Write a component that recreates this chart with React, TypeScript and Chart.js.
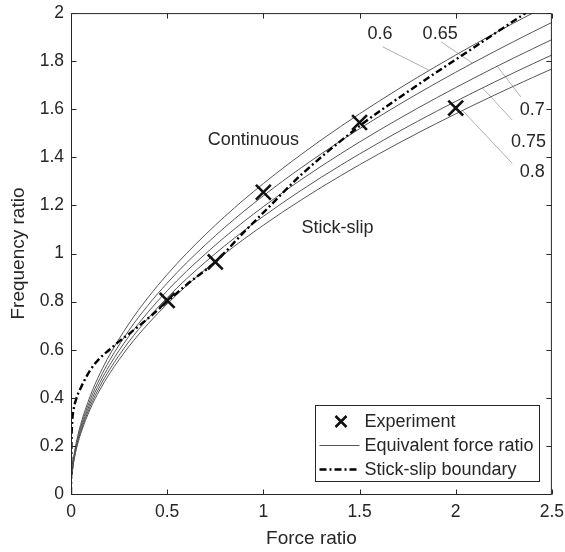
import React, { useEffect, useRef } from 'react';
import { Chart, registerables } from 'chart.js';

Chart.register(...registerables);

const FONT = '"Liberation Sans", Arial, Helvetica, sans-serif';
const TEXT = '#262626';

// Axis ticks
const xTicks = [0, 0.5, 1, 1.5, 2, 2.5];
const xTickLabels = ['0', '0.5', '1', '1.5', '2', '2.5'];
const yTicks = [0, 0.2, 0.4, 0.6, 0.8, 1, 1.2, 1.4, 1.6, 1.8, 2];
const yTickLabels = ['0', '0.2', '0.4', '0.6', '0.8', '1', '1.2', '1.4', '1.6', '1.8', '2'];

// Experiment points
const experimentX = [0.5, 0.75, 1.0, 1.5, 2.0];
const experimentY = [0.805, 0.965, 1.255, 1.545, 1.605];

// Equivalent force ratio curves
const forceGrid = [0.005, 0.01, 0.02, 0.035, 0.05, 0.1, 0.15, 0.2, 0.3, 0.4, 0.5, 0.6, 0.8, 1.0, 1.2, 1.4, 1.6, 1.8, 2.0, 2.2, 2.4, 2.5];
const eqRatio060 = [0.0913, 0.1291, 0.1826, 0.2415, 0.2887, 0.4082, 0.5, 0.5774, 0.7071, 0.8165, 0.9129, 1.0, 1.1547, 1.291, 1.4142, 1.5275, 1.633, 1.7321, 1.8257, 1.9149, 2.0, 2.0412];
const eqRatio065 = [0.0877, 0.124, 0.1754, 0.2321, 0.2774, 0.3922, 0.4804, 0.5547, 0.6794, 0.7845, 0.8771, 0.9608, 1.1094, 1.2403, 1.3587, 1.4676, 1.5689, 1.6641, 1.7541, 1.8397, 1.9215, 1.9612];
const eqRatio070 = [0.0845, 0.1195, 0.169, 0.2236, 0.2673, 0.378, 0.4629, 0.5345, 0.6547, 0.7559, 0.8452, 0.9258, 1.069, 1.1952, 1.3093, 1.4142, 1.5119, 1.6036, 1.6903, 1.7728, 1.8516, 1.8898];
const eqRatio075 = [0.0816, 0.1155, 0.1633, 0.216, 0.2582, 0.3651, 0.4472, 0.5164, 0.6325, 0.7303, 0.8165, 0.8944, 1.0328, 1.1547, 1.2649, 1.3663, 1.4606, 1.5492, 1.633, 1.7127, 1.7889, 1.8257];
const eqRatio080 = [0.0791, 0.1118, 0.1581, 0.2092, 0.25, 0.3536, 0.433, 0.5, 0.6124, 0.7071, 0.7906, 0.866, 1.0, 1.118, 1.2247, 1.3229, 1.4142, 1.5, 1.5811, 1.6583, 1.7321, 1.7678];

// Stick-slip boundary
const boundaryX = [0, 0.001, 0.003, 0.006, 0.012, 0.025, 0.05, 0.1, 0.15, 0.2, 0.25, 0.3, 0.4, 0.5, 0.6, 0.75, 0.9, 1.0, 1.2, 1.5, 1.8, 2.1, 2.4];
const boundaryY = [0, 0.12, 0.24, 0.3, 0.345, 0.39, 0.44, 0.515, 0.565, 0.6, 0.635, 0.665, 0.73, 0.8, 0.87, 0.965, 1.09, 1.17, 1.33, 1.53, 1.7, 1.86, 2.02];

// Curve labels and leader lines (data coordinates)
const curveLabels = ['0.6', '0.65', '0.7', '0.75', '0.8'];
const curveLabelX = [1.606, 1.919, 2.398, 2.378, 2.398];
const curveLabelY = [1.915, 1.915, 1.597, 1.465, 1.34];
const leaderFromX = [1.62, 1.923, 2.338, 2.294, 2.294];
const leaderFromY = [1.86, 1.881, 1.652, 1.555, 1.375];
const leaderToX = [1.862, 2.087, 2.216, 2.139, 2.035];
const leaderToY = [1.762, 1.792, 1.779, 1.689, 1.595];

// Region labels
const regionLabels = ['Continuous', 'Stick-slip'];
const regionX = [0.948, 1.386];
const regionY = [1.472, 1.105];

const toPoints = (xs: number[], ys: number[]) => xs.map((x, i) => ({ x, y: ys[i] }));

const curveSeries = [eqRatio060, eqRatio065, eqRatio070, eqRatio075, eqRatio080];

const annotationPlugin = {
  id: 'annotations',
  beforeDatasetsDraw(chart: any) {
    const { ctx, scales } = chart;
    const x = scales.x, y = scales.y;
    ctx.save();
    ctx.strokeStyle = '#b0b0b0';
    ctx.lineWidth = 1;
    for (let i = 0; i < curveLabels.length; i++) {
      ctx.beginPath();
      ctx.moveTo(x.getPixelForValue(leaderFromX[i]), y.getPixelForValue(leaderFromY[i]));
      ctx.lineTo(x.getPixelForValue(leaderToX[i]), y.getPixelForValue(leaderToY[i]));
      ctx.stroke();
    }
    ctx.restore();
  },
  afterDatasetsDraw(chart: any) {
    const { ctx, scales } = chart;
    const x = scales.x, y = scales.y;
    ctx.save();
    ctx.fillStyle = TEXT;
    ctx.textAlign = 'center';
    ctx.textBaseline = 'middle';
    ctx.font = `18px ${FONT}`;
    for (let i = 0; i < curveLabels.length; i++) {
      ctx.fillText(curveLabels[i], x.getPixelForValue(curveLabelX[i]), y.getPixelForValue(curveLabelY[i]));
    }
    for (let i = 0; i < regionLabels.length; i++) {
      ctx.fillText(regionLabels[i], x.getPixelForValue(regionX[i]), y.getPixelForValue(regionY[i]));
    }
    ctx.restore();
  },
};

const framePlugin = {
  id: 'frame',
  afterDraw(chart: any) {
    const { ctx, chartArea, scales } = chart;
    const { left, right, top, bottom } = chartArea;
    const x = scales.x, y = scales.y;
    const L = left + 0.5, R = right - 0.5, T = top + 0.5, B = bottom + 0.5;
    const tl = 5;
    ctx.save();
    ctx.strokeStyle = TEXT;
    ctx.lineWidth = 1;
    ctx.beginPath();
    ctx.rect(L, T, R - L, B - T);
    ctx.stroke();
    ctx.beginPath();
    xTicks.forEach((v) => {
      const px = Math.round(x.getPixelForValue(v)) + 0.5;
      ctx.moveTo(px, B); ctx.lineTo(px, B - tl);
      ctx.moveTo(px, T); ctx.lineTo(px, T + tl);
    });
    yTicks.forEach((v) => {
      const py = Math.round(y.getPixelForValue(v)) + 0.5;
      ctx.moveTo(L, py); ctx.lineTo(L + tl, py);
      ctx.moveTo(R, py); ctx.lineTo(R - tl, py);
    });
    ctx.stroke();

    // Legend
    const boxW = 224, boxH = 76;
    const bx = Math.round(right - 13 - boxW) + 0.5;
    const by = Math.round(bottom - 13 - boxH) + 0.5;
    ctx.fillStyle = '#ffffff';
    ctx.fillRect(bx, by, boxW, boxH);
    ctx.strokeStyle = TEXT;
    ctx.lineWidth = 1;
    ctx.strokeRect(bx, by, boxW, boxH);

    const ds = chart.data.datasets;
    const seen: string[] = [];
    const items: any[] = [];
    ds.forEach((d: any) => {
      if (!seen.includes(d.label)) { seen.push(d.label); items.push(d); }
    });
    ctx.font = `18px ${FONT}`;
    ctx.textBaseline = 'middle';
    ctx.textAlign = 'left';
    items.forEach((d: any, i: number) => {
      const cy = by + 16 + i * 24;
      const x0 = bx + 4, x1 = bx + 44;
      if (d.showLine === false) {
        const cx = bx + 25.5, r = 5.5;
        ctx.strokeStyle = d.borderColor;
        ctx.lineWidth = d.pointBorderWidth;
        ctx.setLineDash([]);
        ctx.beginPath();
        ctx.moveTo(cx - r, cy - r); ctx.lineTo(cx + r, cy + r);
        ctx.moveTo(cx - r, cy + r); ctx.lineTo(cx + r, cy - r);
        ctx.stroke();
      } else {
        ctx.strokeStyle = d.borderColor;
        ctx.lineWidth = d.borderWidth;
        ctx.setLineDash(d.borderDash || []);
        ctx.beginPath();
        ctx.moveTo(x0, cy); ctx.lineTo(x1, cy);
        ctx.stroke();
        ctx.setLineDash([]);
      }
      ctx.fillStyle = TEXT;
      ctx.fillText(d.label, bx + 49, cy + 0.5);
    });
    ctx.restore();
  },
};

export default function App() {
  const canvasRef = useRef<HTMLCanvasElement | null>(null);

  useEffect(() => {
    if (!canvasRef.current) return;
    const datasets: any[] = [
      {
        label: 'Experiment',
        data: toPoints(experimentX, experimentY),
        showLine: false,
        pointStyle: 'crossRot',
        pointRadius: 10.5,
        pointBorderWidth: 2.6,
        borderColor: '#111111',
        backgroundColor: '#111111',
        order: 0,
      },
      ...curveSeries.map((ys) => ({
        label: 'Equivalent force ratio',
        data: toPoints(forceGrid, ys),
        borderColor: '#555555',
        borderWidth: 1,
        pointRadius: 0,
        cubicInterpolationMode: 'monotone',
        fill: false,
        order: 2,
      })),
      {
        label: 'Stick-slip boundary',
        data: toPoints(boundaryX, boundaryY),
        borderColor: '#000000',
        borderWidth: 2.4,
        borderDash: [7, 3, 2, 3],
        pointRadius: 0,
        cubicInterpolationMode: 'monotone',
        fill: false,
        order: 1,
      },
    ];

    const chart = new Chart(canvasRef.current, {
      type: 'line',
      data: { datasets },
      options: {
        animation: false,
        responsive: false,
        devicePixelRatio: 1,
        events: [],
        layout: { padding: { left: 0, top: 13, right: 12, bottom: 0 } },
        plugins: { legend: { display: false }, tooltip: { enabled: false } },
        scales: {
          x: {
            type: 'linear',
            min: 0,
            max: 2.5,
            grid: { display: false, drawTicks: false },
            border: { display: false },
            afterBuildTicks: (s: any) => { s.ticks = xTicks.map((v) => ({ value: v })); },
            afterFit: (s: any) => { s.height = 58; s.paddingLeft = 0; s.paddingRight = 0; },
            ticks: {
              autoSkip: false,
              maxRotation: 0,
              padding: 8,
              color: TEXT,
              font: { family: FONT, size: 17.5 },
              callback: (_v: any, i: number) => xTickLabels[i],
            },
            title: {
              display: true,
              text: 'Force ratio',
              color: TEXT,
              font: { family: FONT, size: 19 },
              padding: { top: 0, bottom: 2 },
            },
          },
          y: {
            type: 'linear',
            min: 0,
            max: 2,
            grid: { display: false, drawTicks: false },
            border: { display: false },
            afterBuildTicks: (s: any) => { s.ticks = yTicks.map((v) => ({ value: v })); },
            afterFit: (s: any) => { s.width = 71; s.paddingTop = 0; s.paddingBottom = 0; },
            ticks: {
              autoSkip: false,
              padding: 7,
              color: TEXT,
              font: { family: FONT, size: 17.5 },
              callback: (_v: any, i: number) => yTickLabels[i],
            },
            title: {
              display: true,
              text: 'Frequency ratio',
              color: TEXT,
              font: { family: FONT, size: 19 },
              padding: { top: 7, bottom: 0 },
            },
          },
        },
      } as any,
      plugins: [annotationPlugin, framePlugin],
    });
    return () => chart.destroy();
  }, []);

  return (
    <div style={{ position: 'absolute', left: 0, top: 0, width: 565, height: 552, background: '#fff' }}>
      <canvas ref={canvasRef} width={565} height={552} />
    </div>
  );
}
